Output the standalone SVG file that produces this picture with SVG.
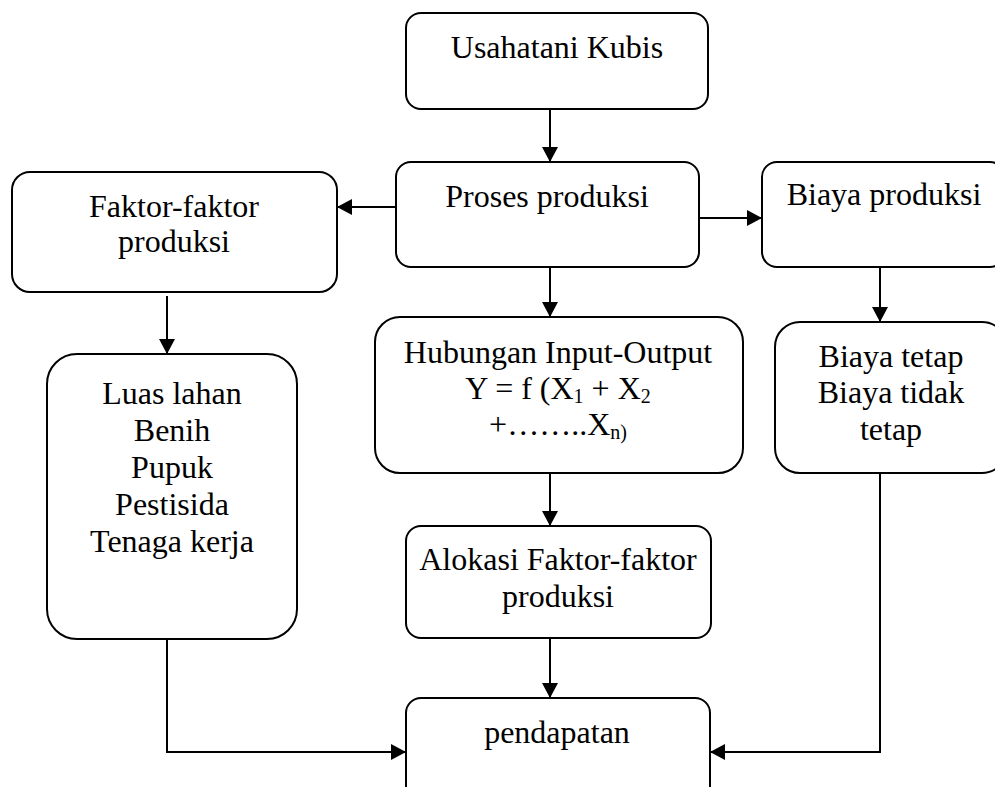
<svg xmlns="http://www.w3.org/2000/svg" width="995" height="787" viewBox="0 0 995 787">
<style>
.box{fill:#fff;stroke:#000;stroke-width:2}
.t{font-family:"Liberation Serif","Times New Roman",serif;font-size:32px;fill:#000;text-anchor:middle}
.sub{font-size:20px}
.c{fill:none;stroke:#000;stroke-width:2}
</style>
<defs>
<marker id="ah" markerUnits="userSpaceOnUse" viewBox="0 0 15 16" markerWidth="15" markerHeight="16" refX="15" refY="8" orient="auto">
<path d="M0,0 L15,8 L0,16 z" fill="#000"/>
</marker>
</defs>
<rect width="995" height="787" fill="#fff"/>
<g id="connectors">
<path class="c" d="M550,109 V162" marker-end="url(#ah)"/>
<path class="c" d="M396,207 H337" marker-end="url(#ah)"/>
<path class="c" d="M699,218 H762" marker-end="url(#ah)"/>
<path class="c" d="M550,267 V317" marker-end="url(#ah)"/>
<path class="c" d="M880,267 V322" marker-end="url(#ah)"/>
<path class="c" d="M167,296 V354" marker-end="url(#ah)"/>
<path class="c" d="M550,473 V526" marker-end="url(#ah)"/>
<path class="c" d="M550,638 V698" marker-end="url(#ah)"/>
<path class="c" d="M167,639 V752 H406" marker-end="url(#ah)"/>
<path class="c" d="M880,473 V752 H710" marker-end="url(#ah)"/>
</g>
<g id="usahatani">
<rect class="box" x="406" y="13" width="302" height="96" rx="15"/>
<text class="t" x="557" y="58">Usahatani Kubis</text>
</g>
<g id="proses">
<rect class="box" x="396" y="162" width="303" height="105" rx="15"/>
<text class="t" x="547" y="207">Proses produksi</text>
</g>
<g id="faktor">
<rect class="box" x="12" y="172" width="325" height="120" rx="18"/>
<text class="t" x="174" y="217">Faktor-faktor</text>
<text class="t" x="174" y="252">produksi</text>
</g>
<g id="biaya-produksi">
<rect class="box" x="762" y="162" width="243" height="105" rx="15"/>
<text class="t" x="884" y="205">Biaya produksi</text>
</g>
<g id="luas">
<rect class="box" x="47" y="354" width="250" height="285" rx="30"/>
<text class="t" x="172" y="404">Luas lahan</text>
<text class="t" x="172" y="441">Benih</text>
<text class="t" x="172" y="478">Pupuk</text>
<text class="t" x="172" y="515">Pestisida</text>
<text class="t" x="172" y="552">Tenaga kerja</text>
</g>
<g id="hubungan">
<rect class="box" x="375" y="317" width="368" height="156" rx="25"/>
<text class="t" x="558" y="363">Hubungan Input-Output</text>
<text class="t" x="558" y="399">Y = f (X<tspan class="sub" dy="4">1</tspan><tspan dy="-4"> + X</tspan><tspan class="sub" dy="4">2</tspan></text>
<text class="t" x="558" y="435">+……..X<tspan class="sub" dy="4">n)</tspan></text>
</g>
<g id="biaya-tetap">
<rect class="box" x="775" y="322" width="232" height="151" rx="25"/>
<text class="t" x="891" y="367">Biaya tetap</text>
<text class="t" x="891" y="403">Biaya tidak</text>
<text class="t" x="891" y="440">tetap</text>
</g>
<g id="alokasi">
<rect class="box" x="406" y="526" width="305" height="112" rx="15"/>
<text class="t" x="558" y="570">Alokasi Faktor-faktor</text>
<text class="t" x="558" y="607">produksi</text>
</g>
<g id="pendapatan">
<rect class="box" x="406" y="698" width="304" height="110" rx="15"/>
<text class="t" x="557" y="743">pendapatan</text>
</g>
</svg>
